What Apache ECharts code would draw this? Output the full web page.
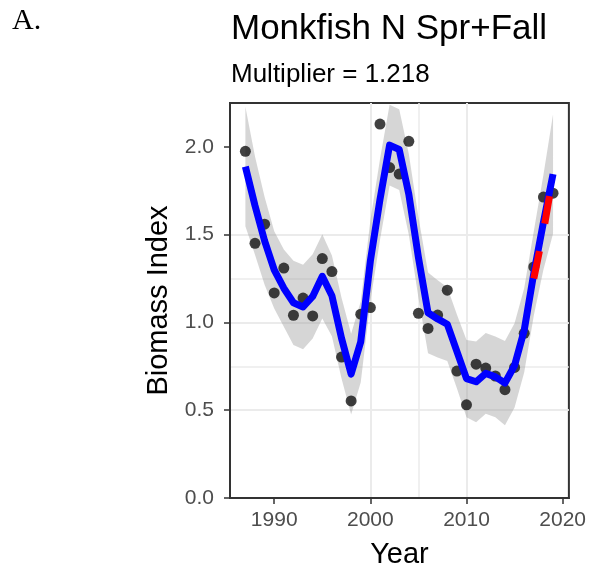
<!DOCTYPE html>
<html>
<head>
<meta charset="utf-8">
<script src="https://cdn.jsdelivr.net/npm/echarts@6/dist/echarts.min.js"></script>
<style>
  html, body { margin: 0; padding: 0; background: #ffffff; }
  #chart { width: 589px; height: 574px; }
</style>
</head>
<body>
<div id="chart"></div>
<script>
// Survey years and the observed biomass index
const years = [1987, 1988, 1989, 1990, 1991, 1992, 1993, 1994, 1995, 1996, 1997,
  1998, 1999, 2000, 2001, 2002, 2003, 2004, 2005, 2006, 2007, 2008, 2009, 2010,
  2011, 2012, 2013, 2014, 2015, 2016, 2017, 2018, 2019];
const observed = [1.975, 1.451, 1.560, 1.168, 1.310, 1.041, 1.139, 1.037, 1.364, 1.290, 0.803,
  0.553, 1.047, 1.085, 2.130, 1.882, 1.845, 2.032, 1.052, 0.966, 1.042, 1.184, 0.723, 0.531,
  0.762, 0.740, 0.695, 0.617, 0.744, 0.938, 1.316, 1.714, 1.736];

// Loess smooth and its confidence band
const smooth = [1.888, 1.665, 1.465, 1.300, 1.195, 1.112, 1.088, 1.148, 1.263, 1.152, 0.910,
  0.706, 0.890, 1.350, 1.700, 2.010, 1.985, 1.730, 1.370, 1.055, 1.020, 0.990, 0.835, 0.680,
  0.662, 0.710, 0.690, 0.655, 0.755, 0.955, 1.280, 1.570, 1.845];
const lower = [1.548, 1.385, 1.215, 1.080, 0.975, 0.872, 0.848, 0.908, 1.023, 0.922, 0.680,
  0.476, 0.660, 1.120, 1.470, 1.780, 1.755, 1.500, 1.140, 0.825, 0.800, 0.780, 0.625, 0.460,
  0.432, 0.480, 0.460, 0.415, 0.515, 0.715, 1.040, 1.300, 1.505];
const upper = [2.228, 1.945, 1.715, 1.520, 1.415, 1.352, 1.328, 1.388, 1.503, 1.382, 1.140,
  0.936, 1.120, 1.580, 1.930, 2.240, 2.215, 1.960, 1.600, 1.285, 1.240, 1.200, 1.045, 0.900,
  0.892, 0.940, 0.920, 0.895, 0.995, 1.195, 1.520, 1.840, 2.185];

// Recent log-linear trend
const trendYears = [2017, 2018, 2019];
const trendValues = [1.250, 1.517, 1.840];

// Axis ticks and grid positions
const xTickValues = [1990, 2000, 2010, 2020];
const xMinorGrid = [1995, 2005, 2015];
const yTickValues = [0, 0.5, 1.0, 1.5, 2.0];
const yMinorGrid = [0.25, 0.75, 1.25, 1.75];

const chartTitle = 'Monkfish N Spr+Fall';
const chartSubtitle = 'Multiplier = 1.218';
const panelTag = 'A.';

const X_MIN = 1985.4, X_MAX = 2020.65;
const Y_MIN = 0, Y_MAX = 2.25;

const sans = '"Liberation Sans", Arial, sans-serif';
const gridColor = '#EBEBEB';
const frameColor = '#333333';

const chart = echarts.init(document.getElementById('chart'), null, { renderer: 'canvas' });

const ribbonSeries = {
  type: 'custom',
  xAxisIndex: 0,
  yAxisIndex: 0,
  silent: true,
  z: 2,
  data: [[years[0], lower[0]]],
  renderItem: function (params, api) {
    const pts = [];
    for (let i = 0; i < years.length; i++) pts.push(api.coord([years[i], upper[i]]));
    for (let i = years.length - 1; i >= 0; i--) pts.push(api.coord([years[i], lower[i]]));
    return {
      type: 'polygon',
      shape: { points: pts },
      style: { fill: 'rgba(153,153,153,0.4)', stroke: null }
    };
  }
};

// gridlines only at the listed values, never at the panel edges
function gridLines(width) {
  return { show: true, showMinLine: false, showMaxLine: false, lineStyle: { color: gridColor, width: width } };
}

const option = {
  animation: false,
  backgroundColor: '#ffffff',
  graphic: [
    { type: 'text', left: 12, top: 6, style: { text: panelTag, font: '30px "Liberation Serif", "Times New Roman", serif', fill: '#000' } },
    { type: 'text', x: 231, y: 29, style: { text: chartTitle, font: '35px ' + sans, fill: '#000', verticalAlign: 'middle' } },
    { type: 'text', x: 231, y: 75, style: { text: chartSubtitle, font: '26px ' + sans, fill: '#000', verticalAlign: 'middle' } }
  ],
  grid: {
    left: 230, right: 18, top: 103, bottom: 75,
    show: true,
    backgroundColor: 'transparent',
    borderColor: frameColor,
    borderWidth: 2,
    z: 0
  },
  xAxis: [
    {
      type: 'value', min: X_MIN, max: X_MAX,
      name: 'Year', nameLocation: 'middle', nameGap: 42,
      nameTextStyle: { fontFamily: sans, fontSize: 29, color: '#000' },
      axisLine: { show: true, onZero: false, lineStyle: { color: frameColor, width: 2 } },
      axisTick: { show: true, customValues: xTickValues, length: 6, lineStyle: { color: frameColor, width: 1.5 } },
      axisLabel: { show: true, customValues: xTickValues, margin: 12, fontFamily: sans, fontSize: 21, color: '#4D4D4D',
        formatter: function (v) { return String(Math.round(v)); } },
      splitLine: gridLines(2)
    },
    {
      type: 'value', min: X_MIN, max: X_MAX, position: 'bottom',
      axisLine: { show: false },
      axisTick: { show: false, customValues: xMinorGrid },
      axisLabel: { show: false, customValues: xMinorGrid },
      splitLine: gridLines(1.5)
    }
  ],
  yAxis: [
    {
      type: 'value', min: Y_MIN, max: Y_MAX,
      name: 'Biomass Index', nameLocation: 'middle', nameGap: 55, nameRotate: 90,
      nameTextStyle: { fontFamily: sans, fontSize: 29, color: '#000' },
      axisLine: { show: true, onZero: false, lineStyle: { color: frameColor, width: 2 } },
      axisTick: { show: true, customValues: yTickValues, length: 6, lineStyle: { color: frameColor, width: 1.5 } },
      axisLabel: { show: true, customValues: yTickValues, margin: 16, fontFamily: sans, fontSize: 21, color: '#4D4D4D',
        formatter: function (v) { return v.toFixed(1); } },
      splitLine: gridLines(2)
    },
    {
      type: 'value', min: Y_MIN, max: Y_MAX, position: 'left',
      axisLine: { show: false },
      axisTick: { show: false, customValues: yMinorGrid },
      axisLabel: { show: false, customValues: yMinorGrid },
      splitLine: gridLines(1.5)
    }
  ],
  series: [
    ribbonSeries,
    {
      type: 'scatter', name: 'observed', xAxisIndex: 0, yAxisIndex: 0, z: 3,
      symbol: 'circle', symbolSize: 11,
      itemStyle: { color: '#111111' },
      data: years.map(function (y, i) { return [y, observed[i]]; })
    },
    {
      type: 'line', name: 'smooth', xAxisIndex: 0, yAxisIndex: 0, z: 4,
      showSymbol: false, symbol: 'none',
      lineStyle: { color: '#0000FF', width: 7, join: 'round' },
      data: years.map(function (y, i) { return [y, smooth[i]]; })
    },
    {
      type: 'line', name: 'trend', xAxisIndex: 0, yAxisIndex: 0, z: 5,
      showSymbol: false, symbol: 'none',
      lineStyle: { color: '#FF0000', width: 7, type: [28, 28], cap: 'butt' },
      data: trendYears.map(function (y, i) { return [y, trendValues[i]]; })
    }
  ]
};

chart.setOption(option);
</script>
</body>
</html>
